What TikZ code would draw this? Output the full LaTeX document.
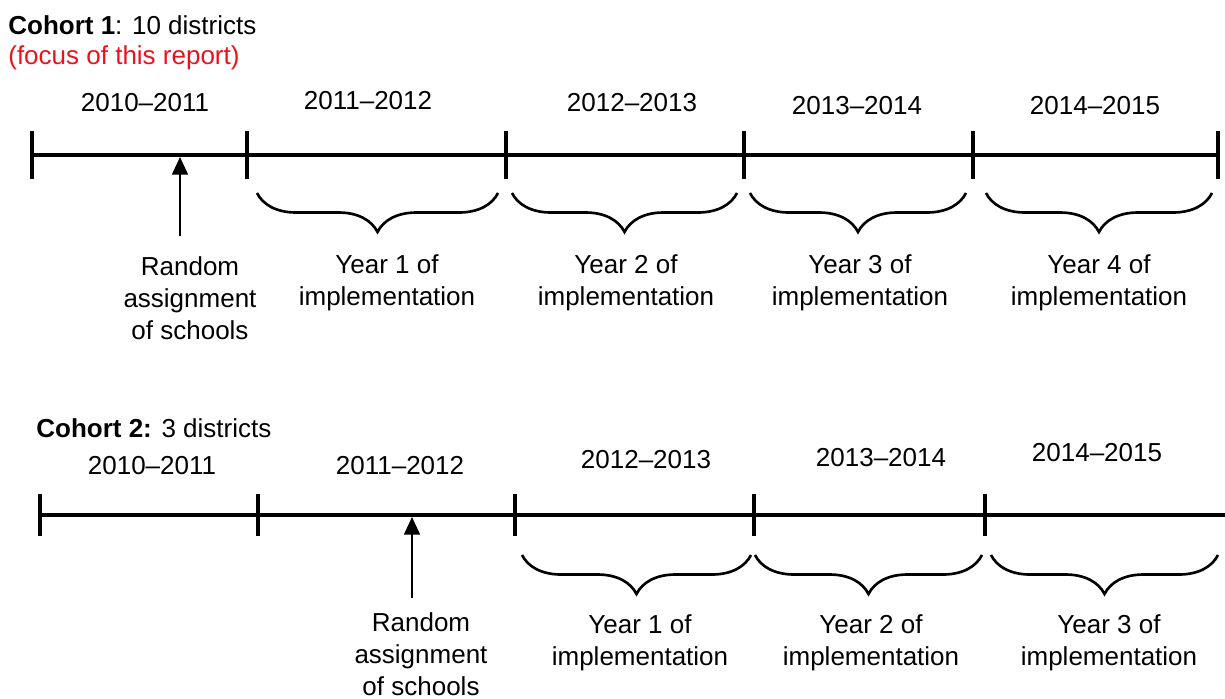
\documentclass[tikz,border=0pt]{standalone}
\usepackage{fontspec}
\setmainfont{Liberation Sans}
\usetikzlibrary{arrows.meta,decorations.pathreplacing,positioning}
\definecolor{focusred}{HTML}{E8141B}

\begin{document}
\begin{tikzpicture}[
  x=0.02cm, y=-0.02cm,
  font=\fontsize{14.8}{18.2}\selectfont,
  axis/.style={line width=2pt},
  tick/.style={line width=2.2pt},
  yearlbl/.style={inner sep=0pt},
  head/.style={anchor=west, inner sep=0pt},
  span/.style={decorate, decoration={brace, mirror, amplitude=0.78cm},
               line width=1.5pt},
  spantxt/.style={align=center, inner sep=0pt},
  assign/.style={-{Triangle[length=10pt, width=9pt]}, line width=1.2pt},
]
\useasboundingbox (0,0) rectangle (1225,698);

% ================= cohort 1 ========================================
\node[head] (c1head) at (8,25) {\textbf{Cohort 1}: 10 districts};
\node[head, text=focusred] (c1focus) at (8,58) {(focus of this report)};

\foreach \n/\x in {a0/32,a1/247,a2/506,a3/744,a4/973,a5/1218}
  \coordinate (\n) at (\x,155);
\draw[axis] (a0) -- (a5);
\foreach \n in {a0,a1,a2,a3,a4,a5}
  \draw[tick] ([yshift=0.48cm]\n) -- ([yshift=-0.48cm]\n);

\foreach \n/\x/\y/\t in {ya0/145/103/2010--2011, ya1/368/101/2011--2012,
    ya2/632/103/2012--2013, ya3/857/106/2013--2014, ya4/1095/106/2014--2015}
  \node[yearlbl] (\n) at (\x,\y) {\t};

% braces over the implementation years
\foreach \s/\e/\n/\x/\k in {257/498/sa1/387/1, 512/737/sa2/626/2,
    750/966/sa3/860/3, 986/1212/sa4/1099/4}
{
  \coordinate (\n l) at (\s,193);
  \coordinate (\n r) at (\e,193);
  \draw[span] (\n l) -- (\n r);
  \node[spantxt] (\n) at (\x,283) {Year \k{} of\\implementation};
}

% random assignment
\node[spantxt] (ra1) at (190,298) {Random\\assignment\\of schools};
\coordinate (ra1tip) at (180,157);
\coordinate (ra1foot) at (180,236);
\draw[assign] (ra1foot) -- (ra1tip);

% ================= cohort 2 ========================================
\node[head] (c2head) at (36,428) {\textbf{Cohort 2:} 3 districts};

\foreach \n/\x in {b0/40,b1/258,b2/515,b3/754,b4/985,b5/1225}
  \coordinate (\n) at (\x,515);
\draw[axis] (b0) -- (b5);
\foreach \n in {b0,b1,b2,b3,b4}
  \draw[tick] ([yshift=0.42cm]\n) -- ([yshift=-0.42cm]\n);

\foreach \n/\x/\y/\t in {yb0/152/466/2010--2011, yb1/400/466/2011--2012,
    yb2/646/460/2012--2013, yb3/881/458/2013--2014, yb4/1097/453/2014--2015}
  \node[yearlbl] (\n) at (\x,\y) {\t};

\foreach \s/\e/\n/\x/\k in {522/751/sb1/640/1, 755/982/sb2/871/2,
    991/1218/sb3/1109/3}
{
  \coordinate (\n l) at (\s,555);
  \coordinate (\n r) at (\e,555);
  \draw[span] (\n l) -- (\n r);
  \node[spantxt] (\n) at (\x,643) {Year \k{} of\\implementation};
}

\node[spantxt] (ra2) at (421,654) {Random\\assignment\\of schools};
\coordinate (ra2tip) at (412,517);
\coordinate (ra2foot) at (412,598);
\draw[assign] (ra2foot) -- (ra2tip);

\end{tikzpicture}
\end{document}
